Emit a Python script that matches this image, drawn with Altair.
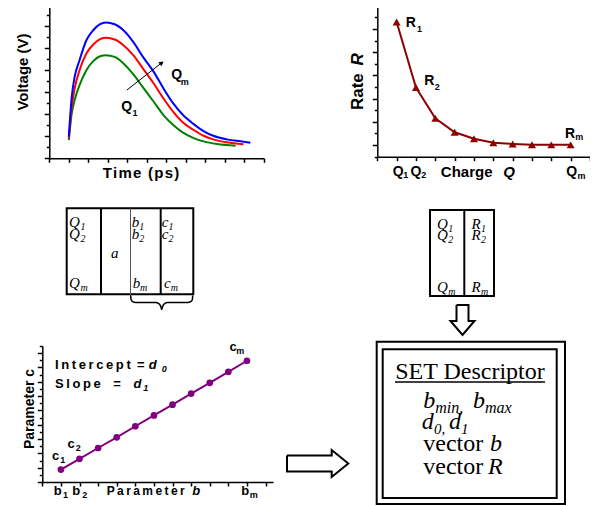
import altair as alt
import pandas as pd

# ---------------- data ----------------
# Panel A: voltage transients for charges Q1 (green), Q2 (red), Qm (blue)
t_q1 = [1.0, 1.15, 1.3, 1.55, 1.9, 2.25, 2.6, 2.9, 3.35, 3.8, 4.3, 4.8, 5.35, 5.85, 6.35, 6.85, 7.4, 7.9, 8.6, 9.55]
v_q1 = [1.66, 4.08, 5.29, 6.65, 8.01, 8.83, 9.28, 9.37, 9.22, 8.62, 7.65, 6.44, 5.14, 3.93, 3.02, 2.33, 1.84, 1.54, 1.30, 1.15]
t_q2 = [1.0, 1.15, 1.3, 1.55, 1.9, 2.25, 2.6, 2.9, 3.35, 3.8, 4.3, 4.8, 5.35, 5.85, 6.35, 6.85, 7.4, 7.9, 8.4, 9.1, 9.95]
v_q2 = [1.81, 4.69, 6.35, 8.01, 9.53, 10.34, 10.83, 10.95, 10.80, 10.28, 9.37, 8.16, 6.80, 5.44, 4.23, 3.26, 2.57, 2.05, 1.72, 1.45, 1.27]
t_qm = [1.0, 1.15, 1.3, 1.55, 1.9, 2.25, 2.6, 2.9, 3.35, 3.8, 4.3, 4.8, 5.35, 5.85, 6.35, 6.85, 7.4, 7.9, 8.4, 9.1, 9.8, 10.3]
v_qm = [1.96, 5.59, 7.41, 8.92, 10.73, 11.64, 12.19, 12.34, 12.19, 11.64, 10.58, 9.22, 7.86, 6.35, 4.99, 3.93, 3.11, 2.48, 2.05, 1.72, 1.54, 1.42]
series_names = ["Q1", "Q2", "Qm"]
series_colors = ["#008000", "#ff0000", "#0000ff"]
arrow_t = [3.97, 5.76]
arrow_v = [6.2, 8.68]

# Panel B: rate R vs charge Q
charge_idx = [1, 2, 3, 4, 5, 6, 7, 8, 9, 10]
rate_R = [11.6, 5.95, 3.3, 2.1, 1.55, 1.2, 1.1, 1.03, 1.02, 1.02]

# Panel C: parameter c vs parameter b
param_b = [1, 2, 3, 4, 5, 6, 7, 8, 9, 10, 11]
param_c = [1.73, 3.24, 4.75, 6.24, 7.79, 9.3, 10.8, 12.35, 13.85, 15.39, 16.94]

# ---------------- layout helpers ----------------
W, H = 582, 497
P = 8
SANS = "Liberation Sans"
SERIF = "Liberation Serif"


def sc(dom, rng):
    return alt.Scale(domain=dom, range=rng, nice=False, zero=False)


CX = sc([P, P + W], [0, W])
CY = sc([P, P + H], [0, H])
XA = sc([0, 11], [49.3 - P, 264 - P]); YA = sc([0, 14], [158.3 - P, 4.3 - P])
XB = sc([0, 11], [377.3 - P, 590 - P]); YB = sc([0, 13], [156.7 - P, 5.7 - P])
XC = sc([0, 12.4], [42.3 - P, 273 - P]); YC = sc([0, 19], [482 - P, 346 - P])


def ax(orient, values, size, offset, domain=True):
    return alt.Axis(orient=orient, values=values, tickSize=size, offset=offset,
                    labels=False, grid=False, title=None, domain=domain,
                    domainColor="black", domainWidth=1.5, tickColor="black", tickWidth=1.5)


layers = []

# ---------------- Panel A ----------------
dfA = pd.DataFrame({
    "t": t_q1 + t_q2 + t_qm,
    "v": v_q1 + v_q2 + v_qm,
    "s": ["Q1"] * len(t_q1) + ["Q2"] * len(t_q2) + ["Qm"] * len(t_qm),
})
layers.append(alt.Chart(dfA).mark_line(strokeWidth=2, interpolate="monotone").encode(
    x=alt.X("t:Q", scale=XA, axis=ax("bottom", list(range(12)), 4, 150.3 - H)),
    y=alt.Y("v:Q", scale=YA, axis=ax("left", [0, 2, 4, 6, 8, 10, 12, 14], 5, -41.3)),
    color=alt.Color("s:N", scale=alt.Scale(domain=series_names, range=series_colors), legend=None),
))
dfArr = pd.DataFrame({"t": arrow_t, "v": arrow_v})
layers.append(alt.Chart(dfArr).mark_line(color="black", strokeWidth=1).encode(
    x=alt.X("t:Q", scale=XA, axis=None),
    y=alt.Y("v:Q", scale=YA, axis=ax("left", [1, 3, 5, 7, 9, 11, 13], 3, -41.3, False)),
))
layers.append(alt.Chart(dfArr.tail(1)).mark_point(shape="triangle-up", filled=True, size=28, angle=52,
                                                  color="black", opacity=1).encode(
    x=alt.X("t:Q", scale=XA, axis=None), y=alt.Y("v:Q", scale=YA, axis=None)))

# ---------------- Panel B ----------------
dfB = pd.DataFrame({"q": charge_idx, "r": rate_R})
layers.append(alt.Chart(dfB).mark_line(color="#8B0000", strokeWidth=2).encode(
    x=alt.X("q:Q", scale=XB, axis=ax("bottom", list(range(12)), 4, 148.7 - H)),
    y=alt.Y("r:Q", scale=YB, axis=ax("left", [1, 3, 5, 7, 9, 11, 13], 5, -369.3)),
))
layers.append(alt.Chart(dfB).mark_point(shape="triangle-up", filled=True, size=64, color="#8B0000",
                                        opacity=1).encode(
    x=alt.X("q:Q", scale=XB, axis=None),
    y=alt.Y("r:Q", scale=YB, axis=ax("left", [0, 2, 4, 6, 8, 10, 12], 3, -369.3, False)),
))

# ---------------- Panel C ----------------
dfC = pd.DataFrame({"b": param_b, "c": param_c})
layers.append(alt.Chart(dfC).mark_line(color="#800080", strokeWidth=2).encode(
    x=alt.X("b:Q", scale=XC, axis=ax("bottom", list(range(13)), 4, 474 - H)),
    y=alt.Y("c:Q", scale=YC, axis=ax("left", list(range(0, 20, 2)), 5, -34.3)),
))
layers.append(alt.Chart(dfC).mark_circle(size=45, color="#800080", opacity=1).encode(
    x=alt.X("b:Q", scale=XC, axis=None),
    y=alt.Y("c:Q", scale=YC, axis=ax("left", list(range(1, 20, 2)), 3, -34.3, False)),
))

# ---------------- schematic shapes ----------------
rects = pd.DataFrame([
    (66.7, 193.3, 208.3, 294.3),
    (430, 494, 210, 296),
    (376.7, 565, 341.7, 504),
    (382.7, 556.7, 349.3, 498),
], columns=["x", "x2", "y", "y2"])
layers.append(alt.Chart(rects).mark_rect(fillOpacity=0, stroke="black", strokeWidth=2).encode(
    x=alt.X("x:Q", scale=CX, axis=None), x2="x2:Q",
    y=alt.Y("y:Q", scale=CY, axis=None), y2="y2:Q"))

rules = pd.DataFrame([
    (101, 101, 208.3, 294.3),
    (160.7, 160.7, 208.3, 294.3),
    (464.3, 464.3, 210, 296),
], columns=["x", "x2", "y", "y2"])
layers.append(alt.Chart(rules).mark_rule(color="black", strokeWidth=2).encode(
    x=alt.X("x:Q", scale=CX, axis=None), x2="x2:Q",
    y=alt.Y("y:Q", scale=CY, axis=None), y2="y2:Q"))
thin = pd.DataFrame([(130.5, 130.5, 208.3, 297)], columns=["x", "x2", "y", "y2"])
layers.append(alt.Chart(thin).mark_rule(color="#555555", strokeWidth=1).encode(
    x=alt.X("x:Q", scale=CX, axis=None), x2="x2:Q",
    y=alt.Y("y:Q", scale=CY, axis=None), y2="y2:Q"))
underline = pd.DataFrame([(395, 545, 382, 382)], columns=["x", "x2", "y", "y2"])
layers.append(alt.Chart(underline).mark_rule(color="black", strokeWidth=1.3).encode(
    x=alt.X("x:Q", scale=CX, axis=None), x2="x2:Q",
    y=alt.Y("y:Q", scale=CY, axis=None), y2="y2:Q"))


def polyline(pts, width=1.8, interp="linear"):
    df = pd.DataFrame([(x, y, i) for i, (x, y) in enumerate(pts)], columns=["x", "y", "i"])
    return alt.Chart(df).mark_line(color="black", strokeWidth=width, interpolate=interp,
                                   strokeJoin="miter").encode(
        x=alt.X("x:Q", scale=CX, axis=None), y=alt.Y("y:Q", scale=CY, axis=None),
        order="i:Q")


brace = [(130.7, 295.5), (131.0, 299.5), (132.6, 301.7), (135.6, 302.6), (155.8, 302.6),
         (158.8, 303.6), (160.8, 306.5), (161.7, 309.5), (162.6, 306.5), (164.6, 303.6),
         (167.6, 302.6), (187.8, 302.6), (190.8, 301.7), (192.4, 299.5), (192.7, 295.5)]
layers.append(polyline(brace, 1.5, "monotone"))
down_arrow = [(456.5, 305), (468.5, 305), (468.5, 321), (474.5, 321), (462.5, 335),
              (450.5, 321), (456.5, 321), (456.5, 305)]
layers.append(polyline(down_arrow, 2))
right_arrow = [(287, 455.5), (331.7, 455.5), (331.7, 450), (348.3, 463.5), (331.7, 477),
               (331.7, 471.5), (287, 471.5), (287, 455.5)]
layers.append(polyline(right_arrow, 2))


# ---------------- text ----------------
def texts(rows, font, weight="bold", style="normal", angle=0, align="center", baseline="middle"):
    df = pd.DataFrame(rows, columns=["text", "x", "y", "fs"])
    return alt.Chart(df).mark_text(font=font, fontWeight=weight, fontStyle=style, angle=angle,
                                   align=align, baseline=baseline, color="black").encode(
        x=alt.X("x:Q", scale=CX, axis=None), y=alt.Y("y:Q", scale=CY, axis=None),
        text="text:N", size=alt.Size("fs:Q", scale=None))


HS = "\u200a"
TS = "\u2009"
sans_bold = [
    (HS.join("Time (ps)"), 141, 173, 15), ("Charge", 466.7, 171.7, 15),
    ("Q", 176.7, 75, 14), ("Q", 126.7, 106.7, 14),
    ("Q", 398.3, 171.7, 14), ("Q", 416, 171.7, 14), ("Q", 571.7, 171.7, 14),
    ("R", 410.8, 22.5, 14), ("R", 429.2, 80.8, 14), ("R", 570, 134, 14),
    ("c", 55.5, 455.8, 13), ("c", 71.2, 444.2, 13), ("c", 233, 346.7, 13),
    ("b", 57.8, 491, 13), ("b", 76.2, 491, 13), ("b", 245.3, 491, 13),
    ("m", 184.7, 81.7, 9), ("1", 135, 112.5, 9),
    ("1", 405.7, 174.5, 9), ("2", 423.8, 174.5, 9), ("m", 581.5, 175.5, 9),
    ("1", 419.5, 29, 9), ("2", 437.2, 87.3, 9), ("m", 579.3, 136.7, 9),
    ("1", 62.8, 460, 9), ("2", 78.3, 448.3, 9), ("m", 240.3, 350.7, 9),
    ("1", 65.5, 494.5, 9), ("2", 84.7, 494.5, 9), ("m", 253.7, 494.5, 9),
]
sans_bold_italic = [
    ("Q", 509, 171.7, 15), ("b", 196.3, 491, 13), ("d", 152.8, 365, 13), ("d", 137.5, 384, 13),
    ("0", 164.2, 369, 9), ("1", 145.7, 388, 9),
]
sans_bold_left = [
    (TS.join("Intercept") + TS + " " + "=", 55, 365, 13),
    (TS.join("Slope") + TS + " " + TS + " =", 55, 384, 13),
    (TS.join("Parameter"), 106.7, 491, 12),
]
sans_bold_rot = [("Voltage (V)", 23, 72, 15), ("Rate", 358, 91.6, 17), ("Parameter c", 30, 409, 14)]
sans_bold_italic_rot = [("R", 358, 59.4, 17)]

serif_italic = [
    ("Q", 69, 227.3, 15), ("Q", 69, 238.8, 15), ("Q", 69, 287.7, 15),
    ("a", 111, 258.3, 15),
    ("b", 131.7, 227.3, 15), ("b", 131.7, 238.8, 15), ("b", 132.7, 287.7, 15),
    ("c", 161.7, 227.3, 15), ("c", 161.7, 238.8, 15), ("c", 164, 287.7, 15),
    ("1", 80.5, 230.2, 10), ("2", 80.5, 241.7, 10), ("m", 80.5, 290.6, 10),
    ("1", 139.3, 230.2, 10), ("2", 139.3, 241.7, 10), ("m", 140.1, 290.6, 10),
    ("1", 168.5, 230.2, 10), ("2", 168.5, 241.7, 10), ("m", 170.8, 290.6, 10),
    ("Q", 437, 228.7, 15), ("Q", 437, 240.2, 15), ("Q", 437, 291.7, 15),
    ("R", 471.5, 228.7, 15), ("R", 471.5, 240.2, 15), ("R", 471.5, 291.7, 15),
    ("1", 448.3, 231.6, 10), ("2", 448.3, 243.1, 10), ("m", 448.3, 294.6, 10),
    ("1", 481, 231.6, 10), ("2", 481, 243.1, 10), ("m", 481, 294.6, 10),
    ("b", 423.3, 407.8, 24), ("b", 473, 407.8, 24), ("d", 421.7, 429.3, 24), ("d", 449, 429.3, 24),
    ("b", 490, 450.5, 24), ("R", 488, 474, 24),
    ("min,", 435.3, 412.8, 16), ("max", 485, 412.8, 16), ("0,", 434, 434.3, 15), ("1", 461, 434.3, 15),
]
serif_center = [("SET Descriptor", 470, 379.3, 24)]
serif_left = [("vector", 423.3, 450.5, 24), ("vector", 423.3, 474, 24)]

layers += [
    texts(sans_bold, SANS),
    texts(sans_bold_italic, SANS, style="italic"),
    texts(sans_bold_left, SANS, align="left"),
    texts(sans_bold_rot, SANS, angle=270),
    texts(sans_bold_italic_rot, SANS, style="italic", angle=270),
    texts(serif_italic, SERIF, weight="normal", style="italic", align="left", baseline="alphabetic"),
    texts(serif_center, SERIF, weight="normal", align="center", baseline="alphabetic"),
    texts(serif_left, SERIF, weight="normal", align="left", baseline="alphabetic"),
]

chart = alt.layer(*layers).resolve_scale(
    x="independent", y="independent", color="independent", size="independent"
).properties(
    width=W, height=H, autosize=alt.AutoSizeParams(type="none"),
    padding={"left": 0, "top": 0, "right": 0, "bottom": 0}, background="white"
).configure_view(strokeWidth=0)

chart.save("out.html", embed_options={"renderer": "svg", "actions": False})
